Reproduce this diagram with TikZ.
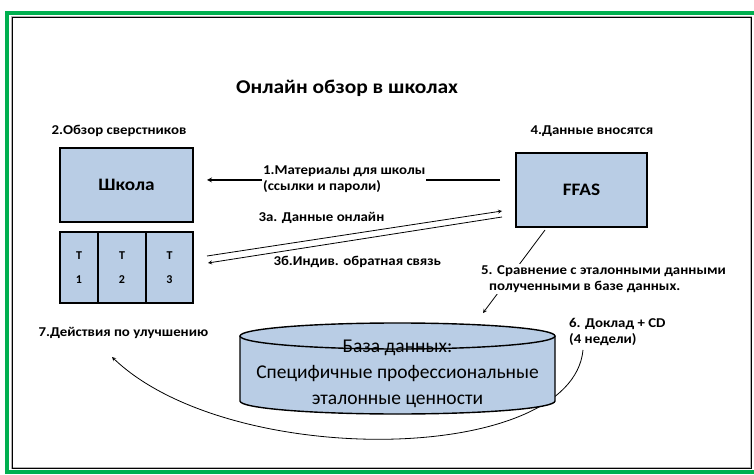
\documentclass[tikz,border=0pt]{standalone}
\usepackage{fontspec}
\setmainfont{Carlito}
\newfontfamily\widefont{Carlito}[FakeStretch=1.1]
\usetikzlibrary{positioning, arrows}
\definecolor{boxblue}{HTML}{B9CDE5}
\definecolor{framegreen}{HTML}{00B050}

\begin{document}
\begin{tikzpicture}[x=1pt,y=1pt,node distance=10pt,>=stealth]
\tikzstyle{every node}=[font=\widefont\bfseries\fontsize{13.5}{16}\selectfont]
\tikzstyle{box}=[draw, line width=1.4pt, fill=boxblue, inner sep=0pt, outer sep=0pt]
\tikzstyle{tcell}=[box, minimum height=71pt, align=center, font=\bfseries\fontsize{12}{24}\selectfont]
\tikzstyle{msg}=[align=left, inner sep=1pt]
\tikzstyle{link}=[draw, ->, line width=0.8pt]

\useasboundingbox (0,0) rectangle (754,474);
\draw[framegreen, line width=4pt] (7,2) rectangle (760,461);
\draw[gray!60, line width=2.4pt] (12,6) rectangle (751,457);
\draw[black, line width=0.8pt] (12,6) rectangle (751,457);

\node (title) at (347,386) {\fontsize{19.5}{22}\selectfont Онлайн обзор в школах};

\node[box, minimum width=133pt, minimum height=74pt, font=\widefont\bfseries\fontsize{17.5}{20}\selectfont] (school) at (126.5,289) {Школа};
\node[tcell, minimum width=38pt, below right=10pt and 0pt of school.south west] (t1) {T\\1};
\node[tcell, minimum width=48pt, right=0pt of t1] (t2) {T\\2};
\node[tcell, minimum width=47pt, right=0pt of t2] (t3) {T\\3};
\node[box, minimum width=131pt, minimum height=74pt, font=\widefont\bfseries\fontsize{17.5}{20}\selectfont] (ffas) at (581.5,284) {FFAS};

\node[anchor=west] (obzor) at (48,343) {2.Обзор сверстников};
\node[anchor=west] (dannye) at (527,343) {4.Данные вносятся};
\node[anchor=west] (deistvia) at (35,141) {7.Действия по улучшению};
\node[msg, anchor=west] (doklad) at (568,142) {6. Доклад + CD\\(4 недели)};

% 6 -> 7
\coordinate (c6) at (583,124);
\coordinate (c7) at (112,117);
\draw[->, line width=0.8pt] (c6) .. controls (572,9) and (230,4) .. (c7);

% database
\fill[boxblue] (240,138) -- (240,73) arc[start angle=180, end angle=360, x radius=157.5, y radius=13]
  -- (555,138) arc[start angle=0, end angle=180, x radius=157.5, y radius=13] -- cycle;
\draw[line width=1.4pt] (240,138) -- (240,73) arc[start angle=180, end angle=360, x radius=157.5, y radius=13] -- (555,138);
\draw[line width=1.4pt] (397.5,138) ellipse [x radius=157.5, y radius=13];
\node[align=center, font=\fontsize{19.5}{26}\selectfont] (db) at (397.5,100) {База данных:\\Специфичные профессиональные\\эталонные ценности};

% 1
\coordinate (m1) at (0,294);
\draw[->, line width=1.2pt, shorten >=14pt, shorten <=16pt] (ffas.west |- m1) -- (school.east |- m1);
\node[msg, anchor=west, fill=white] (mat) at (262,295) {1.Материалы для школы\\(ссылки и пароли)};

% 3a / 3b
\coordinate (a3s) at (207,218);
\coordinate (a3e) at (502,263);
\coordinate (b3s) at (502,257);
\coordinate (b3e) at (208,211);
\draw[link] (a3s) -- (a3e);
\draw[link] (b3s) -- (b3e);
\node[anchor=west] (onl) at (255,256) {3а. Данные онлайн};
\node[anchor=west] (obr) at (270,212) {3б.Индив. обратная связь};

% 5
\coordinate (c5a) at (545,244);
\coordinate (c5b) at (483,161);
\draw[link] (c5a) -- (c5b);
\node[msg, anchor=west, fill=white] (srav) at (480,195) {5. Сравнение с эталонными данными\\\hspace*{8pt}полученными в базе данных.};
\end{tikzpicture}
\end{document}
